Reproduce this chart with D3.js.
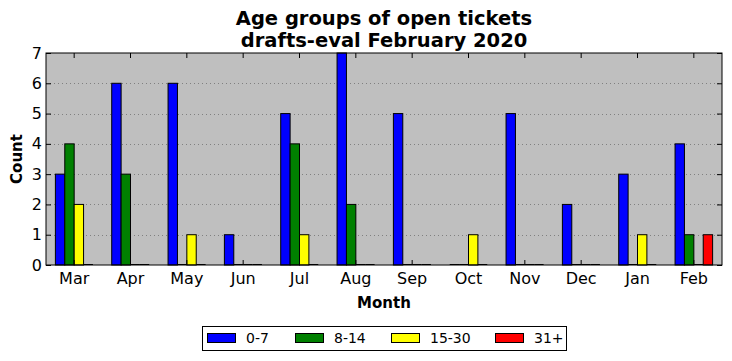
<!DOCTYPE html>
<html>
<head>
<meta charset="utf-8">
<script src="https://cdn.jsdelivr.net/npm/d3@7"></script>
<style>
  body { margin: 0; background: #fff; }
  text { font-family: "DejaVu Sans", sans-serif; }
</style>
</head>
<body>
<svg id="chart" width="732" height="361"></svg>
<script>
// tickets per age group, per month
var months = ["Mar", "Apr", "May", "Jun", "Jul", "Aug", "Sep", "Oct", "Nov", "Dec", "Jan", "Feb"];
var groups = ["0-7", "8-14", "15-30", "31+"];
var age0to7   = [3, 6, 6, 1, 5, 7, 5, 0, 5, 2, 3, 4];
var age8to14  = [4, 3, 0, 0, 4, 2, 0, 0, 0, 0, 0, 1];
var age15to30 = [2, 0, 1, 0, 1, 0, 0, 1, 0, 0, 1, 0];
var age31plus = [0, 0, 0, 0, 0, 0, 0, 0, 0, 0, 0, 1];
var yTicks = [0, 1, 2, 3, 4, 5, 6, 7];
var colors = ["#0000ff", "#008000", "#ffff00", "#ff0000"];

var series = [age0to7, age8to14, age15to30, age31plus];

var svg = d3.select("#chart");
var pLeft = 46, pRight = 722, pTop = 53, pBottom = 265;

var x = d3.scaleBand().domain(months).range([pLeft, pRight]).padding(0);
var xInner = d3.scaleBand().domain(groups)
    .range([x.step() / 6, x.step() * 5 / 6]).padding(0);
var y = d3.scaleLinear().domain([0, 7]).range([pBottom, pTop]);

// background
svg.append("rect")
    .attr("x", pLeft).attr("y", pTop)
    .attr("width", pRight - pLeft).attr("height", pBottom - pTop)
    .attr("fill", "#bfbfbf");

// grid
svg.append("g").selectAll("line")
    .data(yTicks.slice(1, -1))
    .enter().append("line")
    .attr("x1", pLeft).attr("x2", pRight)
    .attr("y1", function(d) { return Math.round(y(d)) + 0.5; })
    .attr("y2", function(d) { return Math.round(y(d)) + 0.5; })
    .attr("stroke", "#808080")
    .attr("stroke-width", 1)
    .attr("stroke-dasharray", "1,3");

// bars
var rows = [];
months.forEach(function(m, i) {
    groups.forEach(function(g, j) {
        rows.push({month: m, group: g, value: series[j][i], color: colors[j]});
    });
});

var bars = svg.append("g");
bars.selectAll("rect")
    .data(rows.filter(function(d) { return d.value > 0; }))
    .enter().append("rect")
    .attr("x", function(d) { return x(d.month) + xInner(d.group); })
    .attr("y", function(d) { return y(d.value); })
    .attr("width", xInner.bandwidth())
    .attr("height", function(d) { return y(0) - y(d.value); })
    .attr("fill", function(d) { return d.color; })
    .attr("stroke", "#000")
    .attr("stroke-width", 1);

// zero bars show up as a dark edge on the baseline
bars.selectAll("line")
    .data(rows.filter(function(d) { return d.value === 0; }))
    .enter().append("line")
    .attr("x1", function(d) { return x(d.month) + xInner(d.group); })
    .attr("x2", function(d) { return x(d.month) + xInner(d.group) + xInner.bandwidth(); })
    .attr("y1", y(0) - 0.5).attr("y2", y(0) - 0.5)
    .attr("stroke", "#000")
    .attr("stroke-width", 1);

// axes
var xAxis = d3.axisBottom(x).tickSizeInner(-5).tickSizeOuter(0).tickPadding(8);
var gx = svg.append("g").attr("transform", "translate(0," + pBottom + ")").call(xAxis);
gx.select(".domain").remove();
gx.selectAll("text").attr("font-size", 16).attr("fill", "#000")
    .style("font-family", "'DejaVu Sans', sans-serif");

var xTop = d3.axisTop(x).tickSizeInner(-5).tickSizeOuter(0).tickFormat("");
var gxt = svg.append("g").attr("transform", "translate(0," + pTop + ")").call(xTop);
gxt.select(".domain").remove();

var yAxis = d3.axisLeft(y).tickValues(yTicks).tickFormat(d3.format("d"))
    .tickSizeInner(-5).tickSizeOuter(0).tickPadding(4);
var gy = svg.append("g").attr("transform", "translate(" + pLeft + ",0)").call(yAxis);
gy.select(".domain").remove();
gy.selectAll("text").attr("font-size", 16).attr("fill", "#000")
    .style("font-family", "'DejaVu Sans', sans-serif");

var yRight = d3.axisRight(y).tickValues(yTicks).tickSizeInner(-5).tickSizeOuter(0).tickFormat("");
var gyr = svg.append("g").attr("transform", "translate(" + pRight + ",0)").call(yRight);
gyr.select(".domain").remove();

// frame
svg.append("rect")
    .attr("x", pLeft).attr("y", pTop)
    .attr("width", pRight - pLeft).attr("height", pBottom - pTop)
    .attr("fill", "none").attr("stroke", "#000").attr("stroke-width", 1);

// titles
var cx = (pLeft + pRight) / 2;
svg.append("text").attr("x", cx).attr("y", 25).attr("text-anchor", "middle")
    .attr("font-size", 19.5).attr("font-weight", "bold").text("Age groups of open tickets");
svg.append("text").attr("x", cx).attr("y", 47).attr("text-anchor", "middle")
    .attr("font-size", 19.5).attr("font-weight", "bold").text("drafts-eval February 2020");

svg.append("text").attr("x", cx).attr("y", 308).attr("text-anchor", "middle")
    .attr("font-size", 15).attr("font-weight", "bold").text("Month");
svg.append("text")
    .attr("transform", "translate(22," + ((pTop + pBottom) / 2) + ") rotate(-90)")
    .attr("text-anchor", "middle")
    .attr("font-size", 15).attr("font-weight", "bold").text("Count");

// legend
var legend = svg.append("g");
legend.append("rect")
    .attr("x", 202.5).attr("y", 326.5).attr("width", 364).attr("height", 24)
    .attr("fill", "#fff").attr("stroke", "#000").attr("stroke-width", 1);
var legendX = [207, 295, 391, 495];
var item = legend.selectAll("g.item")
    .data(groups)
    .enter().append("g").attr("class", "item")
    .attr("transform", function(d, i) { return "translate(" + legendX[i] + ",333)"; });
item.append("rect")
    .attr("x", 0.5).attr("y", 0.5).attr("width", 28).attr("height", 9)
    .attr("fill", function(d, i) { return colors[i]; })
    .attr("stroke", "#000");
item.append("text")
    .attr("x", 39).attr("y", 10)
    .attr("font-size", 14)
    .text(function(d) { return d; });
</script>
</body>
</html>
